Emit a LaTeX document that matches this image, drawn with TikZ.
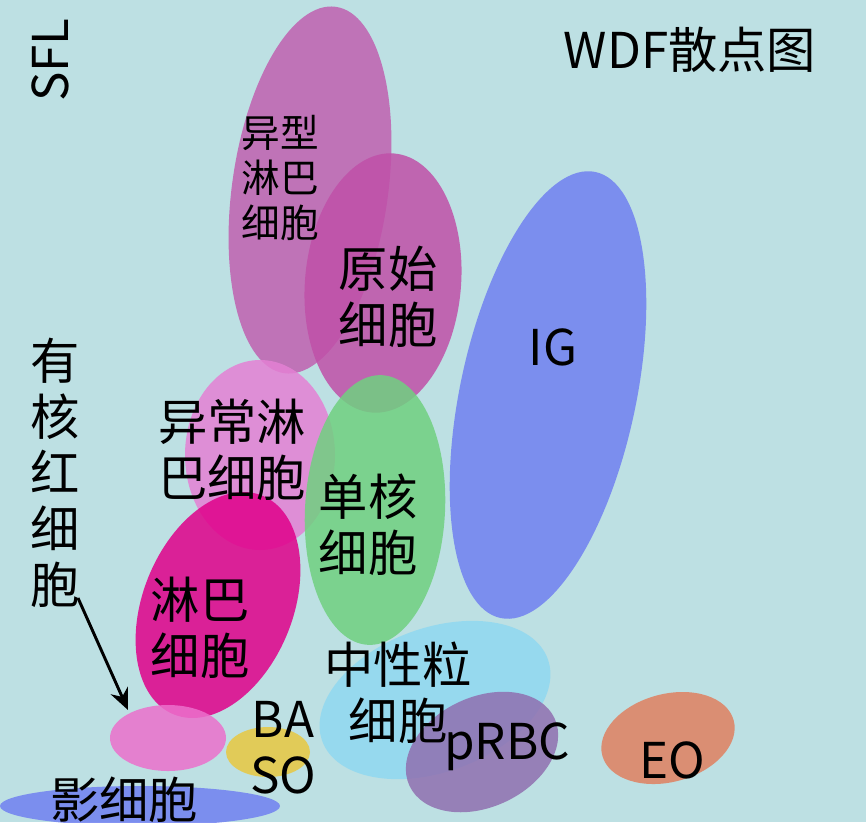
\documentclass[tikz,border=0pt]{standalone}
\usepackage{fontspec}
\setmainfont{Noto Sans CJK SC}
\usetikzlibrary{arrows.meta}
\definecolor{bgcyan}{HTML}{BDE0E3}
\definecolor{atypcol}{HTML}{C060B0}
\definecolor{blastcol}{HTML}{C050A8}
\definecolor{igcol}{HTML}{7080F0}
\definecolor{abncol}{HTML}{E480D4}
\definecolor{monocol}{HTML}{70D080}
\definecolor{lymcol}{HTML}{E0008A}
\definecolor{neucol}{HTML}{90D8F0}
\definecolor{prbccol}{HTML}{9070B0}
\definecolor{eocol}{HTML}{E08060}
\definecolor{basocol}{HTML}{E8C840}
\definecolor{nrbccol}{HTML}{EC70CC}
\tikzset{
  cell/.style={fill opacity=0.85, draw=none},
  lbl/.style={font=\fontsize{37}{42}\selectfont, align=center, inner sep=0pt},
  small/.style={font=\fontsize{29}{34}\selectfont, align=center, inner sep=0pt}
}
\begin{document}
\begin{tikzpicture}[x=0.75pt,y=-0.75pt]

		\useasboundingbox (0,0) rectangle (866,822);
		\fill[bgcyan] (0,0) rectangle (866,822);

		% Clusters
		\fill[cell, atypcol, rotate around={-8:(310,190)}] (310,190) ellipse [x radius=78, y radius=185];
		\fill[cell, blastcol, rotate around={-5:(383,283)}] (383,283) ellipse [x radius=78, y radius=130];
		\fill[cell, igcol, rotate around={-12:(548,395)}] (548,395) ellipse [x radius=88, y radius=228];
		\fill[cell, abncol] (260,455) ellipse [x radius=75, y radius=95];
		\fill[cell, monocol, rotate around={-3:(375,510)}] (375,510) ellipse [x radius=70, y radius=135];
		\fill[cell, lymcol, rotate around={-22:(218,605)}] (218,605) ellipse [x radius=75, y radius=118];
		\fill[cell, neucol, rotate around={20:(435,700)}] (435,700) ellipse [x radius=120, y radius=72];
		\fill[cell, prbccol, rotate around={25:(482,752)}] (482,752) ellipse [x radius=80, y radius=55];
		\fill[cell, eocol, rotate around={15:(668,738)}] (668,738) ellipse [x radius=68, y radius=44];
		\fill[cell, basocol] (268,752) ellipse [x radius=42, y radius=25];
		\fill[cell, nrbccol] (168,738) ellipse [x radius=58, y radius=33];
		\fill[cell, igcol] (140,806) ellipse [x radius=140, y radius=20];

		% Labels
		\node[lbl, rotate=90] (sfl) at (50,60) {SFL};
		\node[lbl] (wdf) at (690,50) {WDF散点图};
		\node[small] (atyp) at (280,178) {异型\\淋巴\\细胞};
		\node[lbl] (blast) at (388,297) {原始\\细胞};
		\node[lbl] (ig) at (553,347) {IG};
		\node[lbl] (abn) at (232,450) {异常淋\\巴细胞};
		\node[lbl] (mono) at (368,525) {单核\\细胞};
		\node[lbl] (lym) at (200,628) {淋巴\\细胞};
		\node[lbl] (neu) at (398,693) {中性粒\\细胞};
		\node[lbl] (prbc) at (507,747) {pRBC};
		\node[lbl] (eo) at (672,760) {EO};
		\node[lbl] (baso) at (283,748) {BA\\SO};
		\node[lbl] (nrbc) at (55,473) {有\\核\\红\\细\\胞};
		\node[lbl] (ghost) at (124,800) {影细胞};

		\coordinate (nrbctip) at (128,710);
		\draw[-{Stealth[length=16pt,width=14pt]}, line width=2.2pt] (78,598) -- (nrbctip);

	\end{tikzpicture}
\end{document}
